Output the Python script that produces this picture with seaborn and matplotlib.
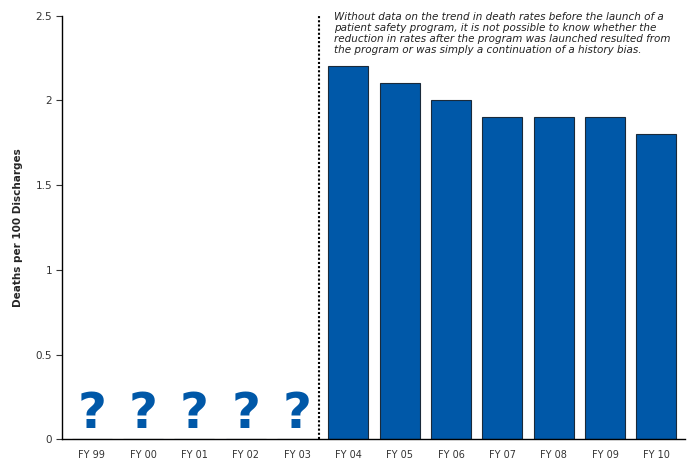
import matplotlib
matplotlib.use("Agg")
import matplotlib.pyplot as plt
import seaborn as sns
import pandas as pd

categories = ["FY 99", "FY 00", "FY 01", "FY 02", "FY 03", "FY 04", "FY 05",
              "FY 06", "FY 07", "FY 08", "FY 09", "FY 10"]
values = [0, 0, 0, 0, 0, 2.2, 2.1, 2.0, 1.9, 1.9, 1.9, 1.8]
unknown = ["FY 99", "FY 00", "FY 01", "FY 02", "FY 03"]
yticks = [0, 0.5, 1, 1.5, 2, 2.5]
ytick_labels = ["0", "0.5", "1", "1.5", "2", "2.5"]
note = ("Without data on the trend in death rates before the launch of a\n"
        "patient safety program, it is not possible to know whether the\n"
        "reduction in rates after the program was launched resulted from\n"
        "the program or was simply a continuation of a history bias.")

sns.set_theme(style="white")
plt.rcParams['font.family'] = ['DejaVu Sans']

df = pd.DataFrame({"cat": categories, "val": values})

fig = plt.figure(figsize=(6.88, 4.59), dpi=100)
ax = fig.add_axes([0.09, 0.043, 0.905, 0.923])
blue = "#0058A8"
sns.barplot(data=df, x="cat", y="val", order=categories, color=blue,
            saturation=1, width=0.78, edgecolor="#1a2a3a", linewidth=0.8, ax=ax)

for c in unknown:
    i = categories.index(c)
    ax.text(i, 0.005, "?", ha="center", va="bottom", fontsize=36,
            fontweight="bold", color=blue)

ax.axvline(4.43, ymin=0, ymax=1, color="black", linestyle=(0, (1, 1)), linewidth=1.5)
ax.text(4.72, 2.52, note, ha="left", va="top", fontsize=7.5, style="italic",
        color="#222222", linespacing=1.1, clip_on=False)

ax.set_xlim(-0.58, 11.55)
ax.set_ylim(0, 2.5)
ax.set_yticks(yticks)
ax.set_yticklabels(ytick_labels)
ax.set_xlabel("")
ax.set_ylabel("Deaths per 100 Discharges", fontsize=7.5, fontweight="bold", labelpad=9)
ax.tick_params(axis="y", which="both", left=True, length=4, width=0.8,
               labelsize=7.5, colors="#333333", pad=3)
ax.tick_params(axis="x", bottom=False, labelsize=7, colors="#333333", pad=1.5)
for s in ["top", "right"]:
    ax.spines[s].set_visible(False)
for s in ["left", "bottom"]:
    ax.spines[s].set_color("black")
    ax.spines[s].set_linewidth(1)

fig.savefig("out.png", dpi=100)
